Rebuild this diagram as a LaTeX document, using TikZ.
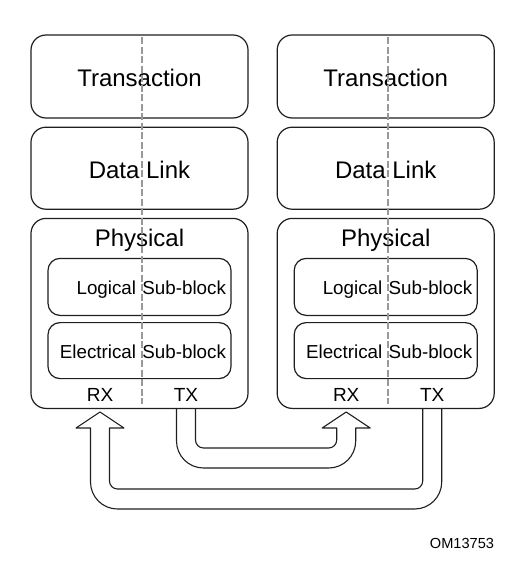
\documentclass[tikz,border=0pt]{standalone}
\usepackage{fontspec}
\setmainfont{Liberation Sans}
\usetikzlibrary{positioning,calc}

\begin{document}
\begin{tikzpicture}[x=1pt,y=-1pt,
  layer node/.style={rectangle,rounded corners=15pt,draw=black!88,line width=1.2pt,minimum width=217pt,minimum height=83pt,inner sep=0pt,text height=20pt,text depth=0pt,font=\fontsize{24}{28}\selectfont},
  sub node/.style={rectangle,rounded corners=12pt,draw=black!88,line width=1.2pt,minimum width=183pt,minimum height=57pt,inner sep=0pt,text width=173pt,align=right,text height=15pt,text depth=0pt,font=\fontsize{18.8}{22}\selectfont},
  big text/.style={inner sep=0pt,font=\fontsize{24}{28}\selectfont},
  small text/.style={inner sep=0pt,font=\fontsize{19}{22}\selectfont},
  split line/.style={draw=black!40,line width=2pt,dash pattern=on 7pt off 2.5pt},
  pipe/.style={draw=black!88,line width=1.1pt,line join=round}]

  \useasboundingbox (0,0) rectangle (515,564);

  % left stack
  \node[layer node] (transL) at (139.5,76.5) {Transaction};
  \node[layer node,minimum height=82pt,below=8pt of transL] (linkL) {Data Link};
  \node[layer node,minimum height=190pt,below=8pt of linkL] (physL) {};
  \node[big text,anchor=base] (phystxtL) at ($(physL.north)+(0,29)$) {Physical};
  \node[sub node,below=40pt of physL.north] (logicL) {Logical Sub-block};
  \node[sub node,minimum height=56pt,below=6pt of logicL] (elecL) {Electrical Sub-block};
  \node[small text,anchor=base] (rxL) at ($(physL.south)+(-39.5,-8)$) {RX};
  \node[small text,anchor=base] (txL) at ($(physL.south)+(46.5,-8)$) {TX};

  % right stack
  \node[layer node,right=28pt of transL] (transR) {Transaction};
  \node[layer node,minimum height=82pt,below=8pt of transR] (linkR) {Data Link};
  \node[layer node,minimum height=190pt,below=8pt of linkR] (physR) {};
  \node[big text,anchor=base] (phystxtR) at ($(physR.north)+(0,29)$) {Physical};
  \node[sub node,below=40pt of physR.north] (logicR) {Logical Sub-block};
  \node[sub node,minimum height=56pt,below=6pt of logicR] (elecR) {Electrical Sub-block};
  \node[small text,anchor=base] (rxR) at ($(physR.south)+(-39.5,-8)$) {RX};
  \node[small text,anchor=base] (txR) at ($(physR.south)+(46.5,-8)$) {TX};

  % RX / TX split
  \draw[split line] ($(transL.north)+(2,3)$) -- ($(physL.south)+(2,-5)$);
  \draw[split line] ($(transR.north)+(2,3)$) -- ($(physR.south)+(2,-5)$);

  \coordinate (txLfoot) at (txL |- physL.south);
  \coordinate (rxLfoot) at (rxL |- physL.south);
  \coordinate (txRfoot) at (txR |- physR.south);
  \coordinate (rxRfoot) at (rxR |- physR.south);

  % TX left -> RX right
  \draw[pipe] ($(txLfoot)+(-9.5,0)$) [rounded corners=27pt] -- ($(txLfoot)+(-9.5,59)$) -- ($(rxRfoot)+(9.5,59)$)
    [sharp corners] -- ($(rxRfoot)+(9.5,19)$) -- ($(rxRfoot)+(24,19)$) -- ($(rxRfoot)+(0,3)$) -- ($(rxRfoot)+(-24,19)$) -- ($(rxRfoot)+(-9.5,19)$)
    [rounded corners=8pt] -- ($(rxRfoot)+(-9.5,39)$) -- ($(txLfoot)+(9.5,39)$) [sharp corners] -- ($(txLfoot)+(9.5,0)$);

  % TX right -> RX left
  \draw[pipe] ($(txRfoot)+(9.5,0)$) [rounded corners=27pt] -- ($(txRfoot)+(9.5,100)$) -- ($(rxLfoot)+(-9.5,100)$)
    [sharp corners] -- ($(rxLfoot)+(-9.5,19)$) -- ($(rxLfoot)+(-24,19)$) -- ($(rxLfoot)+(0,3)$) -- ($(rxLfoot)+(24,19)$) -- ($(rxLfoot)+(9.5,19)$)
    [rounded corners=8pt] -- ($(rxLfoot)+(9.5,80)$) -- ($(txRfoot)+(-9.5,80)$) [sharp corners] -- ($(txRfoot)+(-9.5,0)$);

  \node[inner sep=0pt,font=\fontsize{14.6}{17}\selectfont] (figid) at (462,543) {OM13753};
\end{tikzpicture}
\end{document}
